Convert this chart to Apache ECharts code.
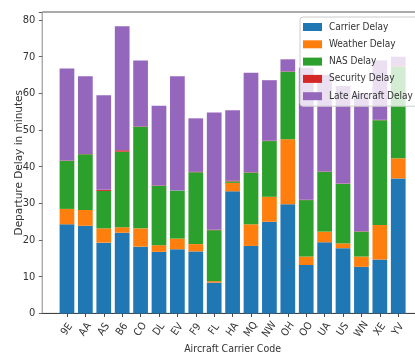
<!DOCTYPE html>
<html>
<head>
<meta charset="utf-8">
<script src="https://cdn.jsdelivr.net/npm/echarts@6/dist/echarts.min.js"></script>
<style>
  html, body { margin: 0; padding: 0; background: #ffffff; }
  #chart { width: 415px; height: 354px; }
</style>
</head>
<body>
<div id="chart"></div>
<script>
// Average departure delay per carrier, broken down by cause (minutes)
const carriers = ['9E','AA','AS','B6','CO','DL','EV','F9','FL','HA','MQ','NW','OH','OO','UA','US','WN','XE','YV'];
const carrierDelay  = [24.3, 23.9, 19.3, 22.0, 18.2, 16.8, 17.5, 16.9, 8.4, 33.3, 18.4, 25.0, 29.8, 13.2, 19.4, 17.8, 12.7, 14.7, 36.8];
const weatherDelay  = [4.2, 4.3, 3.9, 1.5, 5.0, 1.8, 2.9, 2.0, 0.4, 2.3, 5.9, 6.8, 17.7, 2.3, 2.9, 1.3, 2.8, 9.4, 5.5];
const nasDelay      = [13.1, 15.2, 10.2, 20.6, 27.7, 16.2, 13.1, 19.6, 13.9, 0.4, 14.1, 15.2, 18.4, 15.4, 16.3, 16.2, 6.8, 28.6, 25.0];
const securityDelay = [0.1, 0.1, 0.3, 0.4, 0.1, 0.1, 0.0, 0.1, 0.1, 0.2, 0.1, 0.1, 0.1, 0.1, 0.1, 0.1, 0.1, 0.1, 0.2];
const lateAircraftDelay = [25.1, 21.2, 25.8, 33.8, 18.0, 21.7, 31.2, 14.6, 32.0, 19.2, 27.1, 16.5, 3.3, 36.0, 26.3, 26.6, 37.6, 16.2, 2.5];
const yTicks = [0, 10, 20, 30, 40, 50, 60, 70, 80];

const seriesNames = ['Carrier Delay', 'Weather Delay', 'NAS Delay', 'Security Delay', 'Late Aircraft Delay'];
const seriesValues = [carrierDelay, weatherDelay, nasDelay, securityDelay, lateAircraftDelay];
const colors = ['#1f77b4', '#ff7f0e', '#2ca02c', '#d62728', '#9467bd'];

const narrowFont = "'Liberation Sans Narrow', 'DejaVu Sans Condensed', 'Liberation Sans', sans-serif";
const index = carriers.map((_, i) => i);

// Frame axes: x runs from -1.34 to 19.34 in bar-index units (bars of width 0.8 plus margins)
const xMin = -1.34, xMax = 19.34, yMax = 82.2;
const plotLeft = 42.3, plotTop = 12, plotWidth = 380.6, plotHeight = 301.4;
const unit = plotWidth / (xMax - xMin);
// The bar grid covers exactly the 19 category bands inside the frame
const barLeft = plotLeft + (-0.5 - xMin) * unit;
const barWidthPx = carriers.length * unit;

const chart = echarts.init(document.getElementById('chart'), null, { renderer: 'canvas' });

chart.setOption({
  backgroundColor: '#ffffff',
  animation: false,
  color: colors,
  grid: [
    {
      left: plotLeft, top: plotTop, width: plotWidth, height: plotHeight,
      outerBoundsMode: 'none', containLabel: false,
      show: true, borderColor: '#555', borderWidth: 1, backgroundColor: 'transparent'
    },
    {
      left: barLeft, top: plotTop, width: barWidthPx, height: plotHeight,
      outerBoundsMode: 'none', containLabel: false
    }
  ],
  legend: {
    orient: 'vertical',
    left: 300,
    top: 17,
    padding: [4, 6, 4, 3],
    itemWidth: 19,
    itemHeight: 8,
    itemGap: 5.3,
    icon: 'rect',
    backgroundColor: 'rgba(255,255,255,0.8)',
    borderColor: '#cccccc',
    borderWidth: 1,
    borderRadius: 3,
    textStyle: {
      fontFamily: narrowFont,
      fontSize: 10,
      color: '#333',
      lineHeight: 12,
      padding: [0, 0, 0, 2]
    },
    data: seriesNames
  },
  xAxis: [
    {
      gridIndex: 0,
      type: 'value',
      min: xMin,
      max: xMax,
      name: 'Aircraft Carrier Code',
      nameLocation: 'middle',
      nameGap: 30,
      nameMoveOverlap: false,
      nameTextStyle: { fontFamily: narrowFont, fontSize: 10.5, color: '#333' },
      axisLine: { show: true, onZero: false, lineStyle: { color: '#444', width: 1 } },
      axisTick: { show: true, length: 3.5, customValues: index, lineStyle: { color: '#444' } },
      axisLabel: {
        customValues: index,
        rotate: 55,
        align: 'center',
        verticalAlign: 'middle',
        margin: 16,
        fontFamily: narrowFont,
        fontSize: 10.5,
        color: '#333',
        formatter: v => carriers[Math.round(v)] ?? ''
      },
      splitLine: { show: false }
    },
    {
      gridIndex: 1,
      type: 'category',
      data: carriers,
      show: false
    }
  ],
  yAxis: [
    {
      gridIndex: 0,
      type: 'value',
      min: 0,
      max: yMax,
      interval: 10,
      name: 'Departure Delay in minutes',
      nameLocation: 'middle',
      nameGap: 18,
      nameMoveOverlap: false,
      nameTextStyle: { fontFamily: "'DejaVu Sans', sans-serif", fontSize: 10.5, color: '#333' },
      axisLine: { show: true, onZero: false, lineStyle: { color: '#aaa', width: 1 } },
      axisTick: { show: true, length: 3.5, lineStyle: { color: '#666' } },
      axisLabel: {
        margin: 7,
        fontFamily: narrowFont,
        fontSize: 11,
        color: '#333',
        customValues: yTicks
      },
      splitLine: { show: false }
    },
    {
      gridIndex: 1,
      type: 'value',
      min: 0,
      max: yMax,
      show: false,
      splitLine: { show: false }
    }
  ],
  series: seriesNames.map((name, k) => ({
    name: name,
    type: 'bar',
    stack: 'total',
    xAxisIndex: 1,
    yAxisIndex: 1,
    barWidth: '80%',
    itemStyle: { color: colors[k] },
    data: seriesValues[k]
  }))
});
</script>
</body>
</html>
